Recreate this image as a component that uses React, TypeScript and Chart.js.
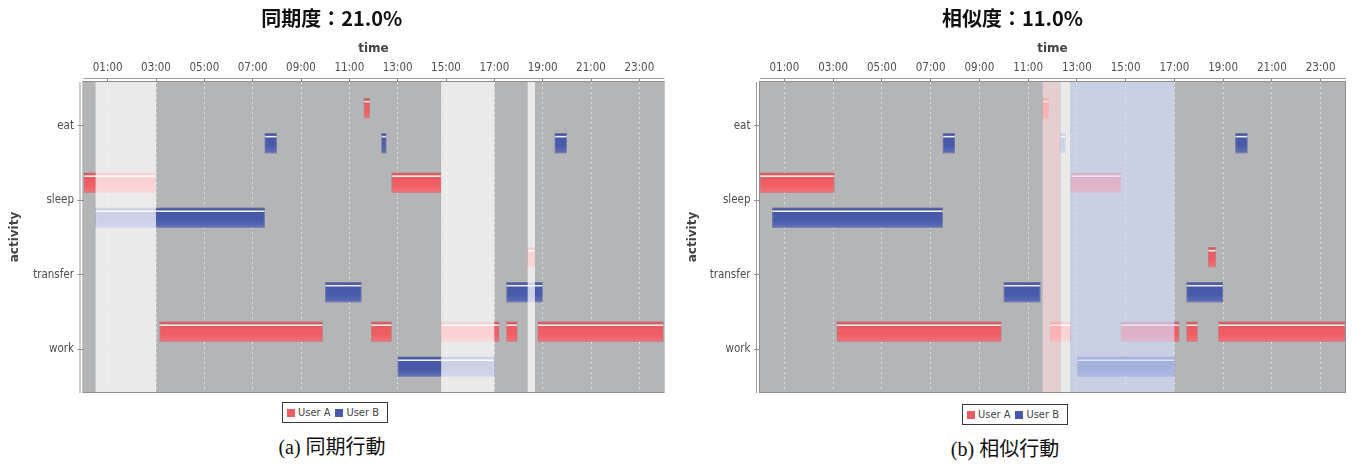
import React, { useEffect, useRef } from 'react';
import { Chart, registerables } from 'chart.js';

Chart.register(...registerables);

// ---------- data ----------
const CATEGORIES = ['eat', 'sleep', 'transfer', 'work'];
const TICK_HOURS = [1, 3, 5, 7, 9, 11, 13, 15, 17, 19, 21, 23];
const TICK_LABELS = ['01:00', '03:00', '05:00', '07:00', '09:00', '11:00', '13:00', '15:00', '17:00', '19:00', '21:00', '23:00'];
const SERIES_NAMES = ['User A', 'User B'];
const X_AXIS_TITLE = 'time';
const Y_AXIS_TITLE = 'activity';

type Segment = [string, number, number];
type Range = [number, number];

// (a) synchronous behaviour
const SYNC_TITLE = '同期度：21.0%';
const SYNC_CAPTION = '(a) 同期行動';
const SYNC_USER_A: Segment[] = [
  ['eat', 11.6, 11.85],
  ['sleep', 0, 3.0],
  ['sleep', 12.75, 14.8],
  ['transfer', 18.38, 18.68],
  ['work', 3.15, 9.9],
  ['work', 11.9, 12.75],
  ['work', 14.8, 17.2],
  ['work', 17.5, 17.95],
  ['work', 18.8, 24],
];
const SYNC_USER_B: Segment[] = [
  ['eat', 7.5, 8.0],
  ['eat', 12.33, 12.53],
  ['eat', 19.5, 20.0],
  ['sleep', 0.5, 7.5],
  ['transfer', 10.0, 11.5],
  ['transfer', 17.5, 19.0],
  ['work', 13.0, 17.0],
];
const SYNC_MARKERS: Range[] = [[0.5, 3.0], [14.8, 17.0], [18.38, 18.68]];

// (b) similar behaviour
const SIM_TITLE = '相似度：11.0%';
const SIM_CAPTION = '(b) 相似行動';
const SIM_USER_A: Segment[] = [
  ['eat', 11.6, 11.85],
  ['sleep', 0, 3.05],
  ['sleep', 12.75, 14.8],
  ['transfer', 18.38, 18.7],
  ['work', 3.15, 9.9],
  ['work', 11.9, 12.75],
  ['work', 14.8, 17.2],
  ['work', 17.5, 17.95],
  ['work', 18.8, 24],
];
const SIM_USER_B: Segment[] = [
  ['eat', 7.5, 8.0],
  ['eat', 12.33, 12.53],
  ['eat', 19.5, 20.0],
  ['sleep', 0.5, 7.5],
  ['transfer', 10.0, 11.5],
  ['transfer', 17.5, 19.0],
  ['work', 13.0, 17.0],
];
const SIM_MARKERS_A: Range[] = [[11.6, 12.33]];
const SIM_MARKERS_BOTH: Range[] = [[12.33, 12.73]];
const SIM_MARKERS_B: Range[] = [[12.73, 17.0]];

// ---------- style ----------
const RED = '#ef5c62';
const BLUE = '#4759aa';
const PLOT_BG = '#b4b5b7';
const GRID = 'rgba(228,228,228,0.85)';
const WHITE_MARK = 'rgba(255,255,255,0.72)';
const PINK_MARK = 'rgba(255,218,222,0.66)';
const BLUE_MARK = 'rgba(214,221,250,0.66)';
const TICK_FONT = "'DejaVu Sans Condensed', 'Liberation Sans Narrow', 'DejaVu Sans', sans-serif";
const BOLD_FONT = "'DejaVu Sans', sans-serif";
const CJK_FONT = "'Noto Sans CJK JP', 'Noto Sans', sans-serif";
const CAPTION_FONT = "'Liberation Serif', 'DejaVu Serif', 'Noto Sans CJK JP', serif";
const CANVAS_H = 404;
const PLOT_TOP = 82;
const PLOT_BOTTOM = 392;

const decoPlugin = {
  id: 'plotDeco',
  beforeDraw(chart: any) {
    const { ctx, chartArea: a } = chart;
    ctx.save();
    ctx.fillStyle = PLOT_BG;
    ctx.fillRect(a.left, a.top, a.right - a.left, a.bottom - a.top);
    ctx.restore();
  },
  afterDatasetsDraw(chart: any, _args: any, opts: any) {
    const { ctx, chartArea: a } = chart;
    ctx.save();
    // glossy bar shading
    chart.data.datasets.forEach((_ds: any, di: number) => {
      const meta = chart.getDatasetMeta(di);
      meta.data.forEach((el: any) => {
        const p = el.getProps(['x', 'y', 'base', 'height'], true);
        const left = Math.min(p.x, p.base);
        const w = Math.abs(p.x - p.base);
        const top = p.y - p.height / 2;
        const h = p.height;
        const g = ctx.createLinearGradient(0, top, 0, top + h);
        g.addColorStop(0, 'rgba(0,0,0,0.10)');
        g.addColorStop(0.2, 'rgba(0,0,0,0.04)');
        g.addColorStop(0.6, 'rgba(255,255,255,0.0)');
        g.addColorStop(1, 'rgba(255,255,255,0.14)');
        ctx.fillStyle = g;
        ctx.fillRect(left, top, w, h);
        ctx.fillStyle = 'rgba(255,255,255,0.9)';
        ctx.fillRect(left, top + h * 0.13, w, 1.6);
        ctx.strokeStyle = 'rgba(150,150,160,0.45)';
        ctx.lineWidth = 1;
        ctx.strokeRect(left + 0.5, top + 0.5, Math.max(w - 1, 0), h - 1);
      });
    });
    // interval markers
    const xs = chart.scales.x;
    (opts.markers || []).forEach((m: any) => {
      ctx.fillStyle = m.color;
      m.ranges.forEach((r: Range) => {
        const x0 = xs.getPixelForValue(r[0]);
        const x1 = xs.getPixelForValue(r[1]);
        ctx.fillRect(x0, a.top, x1 - x0, a.bottom - a.top);
      });
    });
    // plot outline and offset axis lines
    ctx.strokeStyle = '#8e8e8e';
    ctx.lineWidth = 1;
    ctx.strokeRect(a.left - 0.5, a.top - 0.5, a.right - a.left + 1, a.bottom - a.top + 1);
    ctx.strokeStyle = '#9a9a9a';
    ctx.beginPath();
    ctx.moveTo(a.left, a.top - 3.5);
    ctx.lineTo(a.right + 1, a.top - 3.5);
    ctx.moveTo(a.left - 3.5, a.top);
    ctx.lineTo(a.left - 3.5, a.bottom + 1);
    ctx.stroke();
    ctx.restore();
  },
};

const toPoints = (segs: Segment[]) =>
  segs.map(([cat, from, to]) => ({ x: [from, to], y: CATEGORIES.indexOf(cat) }));

type PanelProps = {
  title: string;
  userA: Segment[];
  userB: Segment[];
  markers: { ranges: Range[]; color: string }[];
  width: number;
  plotLeft: number;
  plotRight: number;
  yTitleCenter: number;
};

function Panel(props: PanelProps) {
  const ref = useRef<HTMLCanvasElement | null>(null);
  useEffect(() => {
    if (!ref.current) return;
    const tickFont = { family: TICK_FONT, size: 11.5, lineHeight: 1.2 };
    const titleFont = { family: BOLD_FONT, size: 12, weight: 'bold' as const, lineHeight: 1.2 };
    const chart = new Chart(ref.current, {
      type: 'bar',
      data: {
        datasets: [
          { label: SERIES_NAMES[0], data: toPoints(props.userA) as any, backgroundColor: RED, borderWidth: 0 },
          { label: SERIES_NAMES[1], data: toPoints(props.userB) as any, backgroundColor: BLUE, borderWidth: 0 },
        ],
      },
      options: {
        indexAxis: 'y',
        responsive: false,
        maintainAspectRatio: false,
        animation: false,
        events: [],
        layout: {
          padding: { left: 0, right: props.width - props.plotRight, top: 0, bottom: CANVAS_H - PLOT_BOTTOM },
        },
        datasets: { bar: { categoryPercentage: 0.94, barPercentage: 0.57, grouped: true } },
        plugins: {
          legend: { display: false },
          tooltip: { enabled: false },
          title: {
            display: true,
            text: props.title,
            color: '#111',
            font: { family: CJK_FONT, size: 20, weight: 'bold', lineHeight: 1.2 },
            padding: { top: 6, bottom: 0 },
          },
          plotDeco: { markers: props.markers },
        } as any,
        scales: {
          x: {
            type: 'linear',
            position: 'top',
            min: 0,
            max: 24,
            afterBuildTicks: (s: any) => {
              s.ticks = TICK_HOURS.map((v) => ({ value: v }));
            },
            afterFit: (s: any) => {
              s.height = PLOT_TOP - 30;
            },
            ticks: {
              autoSkip: false,
              maxRotation: 0,
              minRotation: 0,
              padding: 3.5,
              color: '#4d4d4d',
              font: tickFont,
              callback: (_v: any, i: number) => TICK_LABELS[i],
            },
            grid: {
              color: GRID,
              lineWidth: 1,
              tickLength: 4,
              tickColor: '#8a8a8a',
              tickBorderDash: [],
            },
            border: { display: false, dash: [2, 3] },
            title: {
              display: true,
              text: X_AXIS_TITLE,
              color: '#444',
              font: titleFont,
              padding: { top: 11.5, bottom: 0 },
            },
          },
          y: {
            type: 'linear',
            reverse: true,
            min: -0.587,
            max: 3.573,
            offset: false,
            afterBuildTicks: (s: any) => {
              s.ticks = CATEGORIES.map((_c, i) => ({ value: i }));
            },
            afterFit: (s: any) => {
              s.width = props.plotLeft;
            },
            ticks: {
              padding: 3.5,
              color: '#4d4d4d',
              font: tickFont,
              callback: (v: any) => CATEGORIES[Math.round(Number(v))] ?? '',
            },
            grid: {
              drawOnChartArea: false,
              offset: false,
              tickLength: 6,
              tickColor: '#8a8a8a',
            },
            border: { display: false },
            title: {
              display: true,
              text: Y_AXIS_TITLE,
              color: '#444',
              font: titleFont,
              padding: { top: props.yTitleCenter - 7.2, bottom: 0 },
            },
          },
        },
      } as any,
      plugins: [decoPlugin as any],
    });
    return () => chart.destroy();
  }, []);
  return (
    <canvas
      ref={ref}
      width={props.width}
      height={CANVAS_H}
      style={{ display: 'block', width: props.width, height: CANVAS_H }}
    />
  );
}

function Legend({ left, top }: { left: number; top: number }) {
  const sq = (c: string, ml: number) => (
    <span style={{ display: 'inline-block', width: 8, height: 8, background: c, marginLeft: ml, marginRight: 3 }} />
  );
  return (
    <div
      style={{
        position: 'absolute',
        left,
        top,
        width: 106,
        height: 21,
        boxSizing: 'border-box',
        border: '1px solid #3a3a3a',
        display: 'flex',
        alignItems: 'center',
        paddingLeft: 4,
        font: `11px ${TICK_FONT}`,
        color: '#444',
        background: '#fff',
        whiteSpace: 'nowrap',
      }}
    >
      {sq(RED, 0)}
      <span>{SERIES_NAMES[0]}</span>
      {sq(BLUE, 5)}
      <span>{SERIES_NAMES[1]}</span>
    </div>
  );
}

function Caption({ center, top, text }: { center: number; top: number; text: string }) {
  return (
    <div
      style={{
        position: 'absolute',
        left: center - 150,
        top,
        width: 300,
        textAlign: 'center',
        font: `20px ${CAPTION_FONT}`,
        lineHeight: '24px',
        color: '#111',
      }}
    >
      {text}
    </div>
  );
}

export default function App() {
  return (
    <div style={{ position: 'absolute', left: 0, top: 0, width: 1352, height: 465, background: '#fff', overflow: 'hidden' }}>
      <div style={{ position: 'absolute', left: 0, top: 0 }}>
        <Panel
          title={SYNC_TITLE}
          userA={SYNC_USER_A}
          userB={SYNC_USER_B}
          markers={[{ ranges: SYNC_MARKERS, color: WHITE_MARK }]}
          width={676}
          plotLeft={83.5}
          plotRight={663.5}
          yTitleCenter={15}
        />
      </div>
      <div style={{ position: 'absolute', left: 680, top: 0 }}>
        <Panel
          title={SIM_TITLE}
          userA={SIM_USER_A}
          userB={SIM_USER_B}
          markers={[
            { ranges: SIM_MARKERS_A, color: PINK_MARK },
            { ranges: SIM_MARKERS_BOTH, color: WHITE_MARK },
            { ranges: SIM_MARKERS_B, color: BLUE_MARK },
          ]}
          width={672}
          plotLeft={80}
          plotRight={665}
          yTitleCenter={13}
        />
      </div>
      <Legend left={282} top={402} />
      <Legend left={962} top={404} />
      <Caption center={332} top={435} text={SYNC_CAPTION} />
      <Caption center={1005} top={437} text={SIM_CAPTION} />
    </div>
  );
}
